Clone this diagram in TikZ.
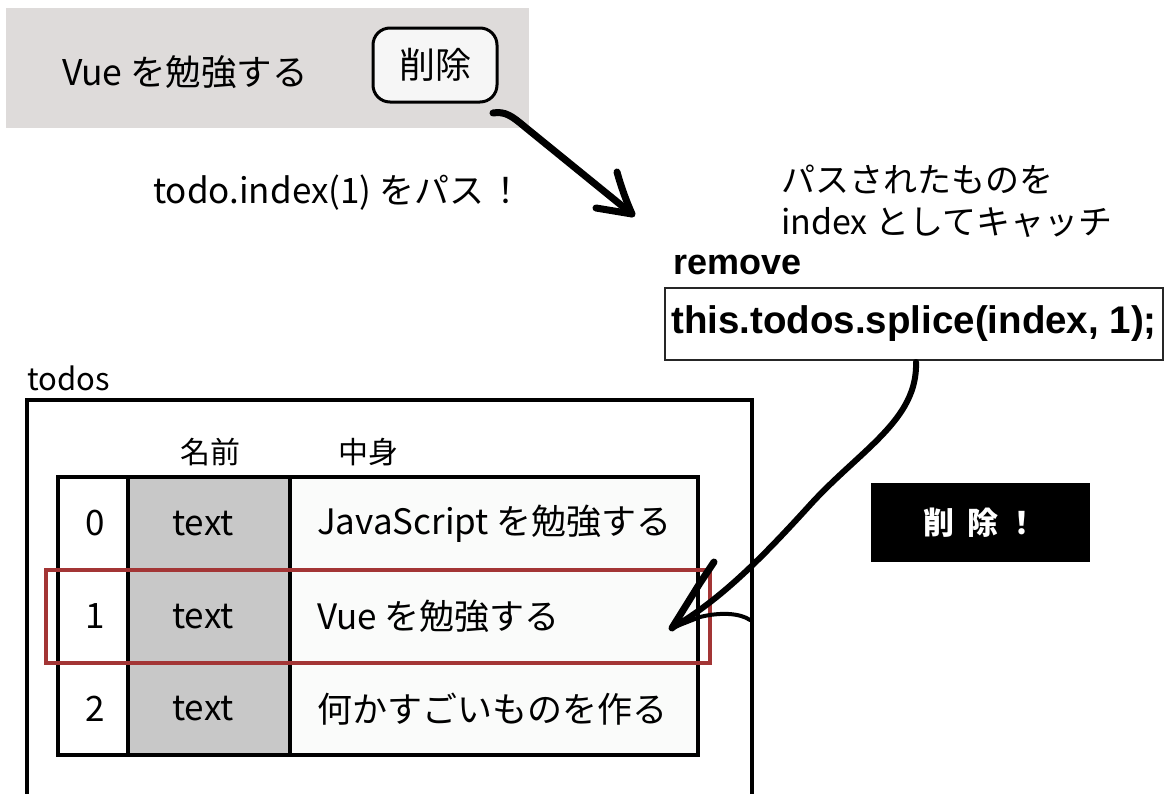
\documentclass[tikz,border=0pt]{standalone}
\usepackage{fontspec}
\setmainfont{Noto Sans CJK JP}
\newfontfamily\codefont{Liberation Sans}
\usetikzlibrary{calc}

\newcommand\setfs[2]{\fontsize{#1}{#2}\selectfont}

\definecolor{panelgray}{HTML}{DEDBDA}
\definecolor{namegray}{HTML}{C8C8C8}
\definecolor{cellwhite}{HTML}{FAFBFA}
\definecolor{btnfill}{HTML}{F6F6F6}
\definecolor{selred}{HTML}{A33535}

\tikzset{
  pen/.style={line width=7, line cap=round, line join=round},
  thinpen/.style={line width=4, line cap=round, line join=round},
  label/.style={inner sep=0, font=\setfs{34}{42}},
  cell/.style={draw, line width=4, inner sep=0, outer sep=0, anchor=north west, minimum height=93},
  celltext/.style={inner sep=0, font=\setfs{35}{42}},
  box/.style={inner sep=0, outer sep=0, anchor=north west}
}

\begin{document}
\begin{tikzpicture}[x=1pt, y=-1pt]
\clip (0,0) rectangle (1168,793);
\fill[white] (0,0) rectangle (1168,793);

% list item with its delete button
\node[box, fill=panelgray, minimum width=523, minimum height=120] (panel) at (6,8) {};
\node[label, font=\setfs{35.5}{40}] (item) at (185,72) {Vue を勉強する};
\node[box, draw, line width=3, fill=btnfill, rounded corners=17,
      minimum width=124, minimum height=74, font=\setfs{36}{40}] (btn) at (373,28) {削除};

% click passes the index
\node[label, font=\setfs{35}{42}, anchor=west] (passlbl) at (153,193) {todo.index(1) をパス\hspace{4pt}！};
\coordinate (a1start) at ([shift={(-4,11)}]btn.south east);
\coordinate (a1tip) at (632,214);
\coordinate (a1up) at (617,172);
\coordinate (a1left) at (596,208);
\draw[pen] (a1start) .. controls (505,111) and (512,116) .. (525,127) -- (a1tip);
\draw[pen] (a1up) .. controls (622,190) and (628,205) .. (a1tip) -- (a1left);

% remove method
\node[label, anchor=west, align=left] (catch) at (781,201) {パスされたものを\\index としてキャッチ};
\node[inner sep=0, anchor=west, font=\codefont\bfseries\setfs{36}{40}] (rmlbl) at (673,265) {remove};
\node[box, draw=black!85, line width=1.5, minimum width=498, minimum height=72] (code) at (665,288) {};
\node[inner sep=0, font=\codefont\bfseries\setfs{38.5}{44}] (codetxt) at (code.center) {this.todos.splice(index, 1);};

% result badge
\node[box, fill=black, text=white, minimum width=219, minimum height=79,
      font=\bfseries\setfs{31}{34}] (done) at (871,483) {削\hspace{14pt}除\hspace{8pt}！};

% todos array
\node[inner sep=0, anchor=west, font=\setfs{31}{34}] (todoslbl) at (27,378) {todos};
\node[box, draw, line width=4, minimum width=725, minimum height=440] (todosbox) at (27,400) {};
\node[inner sep=0, font=\setfs{30}{34}] (hname) at (210,452) {名前};
\node[inner sep=0, font=\setfs{30}{34}] (hbody) at (368,452) {中身};

\foreach \r/\y/\h/\txt in {0/477/93/JavaScript を勉強する, 1/570/93/Vue を勉強する, 2/663/92/何かすごいものを作る}{
  \node[cell, fill=white, minimum width=70, minimum height=\h] (i\r) at (58,\y) {};
  \node[cell, fill=namegray, minimum width=162, minimum height=\h] (n\r) at (128,\y) {};
  \node[cell, fill=cellwhite, minimum width=408, minimum height=\h] (b\r) at (290,\y) {};
  \node[celltext] (i\r t) at ([xshift=2]i\r.center) {\r};
  \node[celltext] (n\r t) at ([xshift=-6]n\r.center) {text};
  \node[celltext, anchor=west] (b\r t) at ([xshift=27]b\r.west) {\txt};
}

% selected row
\node[box, draw=selred, line width=3.5, minimum width=664, minimum height=93] (sel) at (46,570) {};

% splice removes the selected row
\coordinate (a2start) at ([xshift=2,yshift=-2]code.south);
\coordinate (a2tip) at (672,628);
\coordinate (a2up) at (714,562);
\coordinate (a2right) at (750,620);
\draw[line width=6, line cap=round, line join=round] (a2start) .. controls (918,420) and (860,450) .. (810,505)
      .. controls (760,560) and (720,600) .. (a2tip);
\draw[pen] (a2up) -- (700,583) -- (a2tip);
\draw[thinpen] (a2tip) -- (700,617) .. controls (720,612) and (740,613) .. (a2right);
\end{tikzpicture}
\end{document}
